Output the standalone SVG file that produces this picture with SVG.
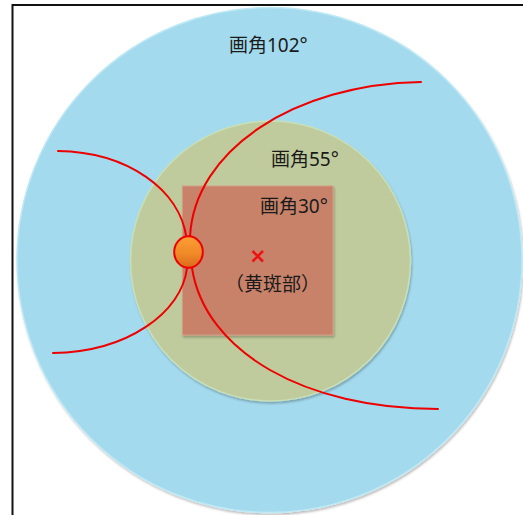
<svg xmlns="http://www.w3.org/2000/svg" width="523" height="515" viewBox="0 0 523 515">
  <defs>
    <linearGradient id="spotFill" x1="0" y1="0" x2="0" y2="1">
      <stop offset="0" stop-color="#fd9e36"/>
      <stop offset="0.55" stop-color="#f08a28"/>
      <stop offset="1" stop-color="#d9691c"/>
    </linearGradient>
    <filter id="softShadow" x="-5%" y="-5%" width="110%" height="110%">
      <feGaussianBlur in="SourceAlpha" stdDeviation="1.2"/>
      <feOffset dx="1" dy="1.5" result="b"/>
      <feComponentTransfer><feFuncA type="linear" slope="0.25"/></feComponentTransfer>
      <feMerge><feMergeNode/><feMergeNode in="SourceGraphic"/></feMerge>
    </filter>
  </defs>
  <style>
    .label { font-family: "Noto Sans", "Noto Sans CJK JP", sans-serif; font-size: 19px; fill: #1a1a1a; }
    .ray { fill: none; stroke: #ee0000; stroke-width: 2; stroke-linecap: round; }
  </style>

  <rect x="0" y="0" width="523" height="515" fill="#ffffff"/>
  <!-- frame -->
  <rect x="12.5" y="5" width="530" height="530" fill="none" stroke="#111111" stroke-width="2"/>

  <g id="field-102">
    <circle cx="269.5" cy="260" r="252.5" fill="#a4daee" stroke="#bfe9f5" stroke-width="1.5" filter="url(#softShadow)"/>
    <text class="label" x="229" y="52">画角102°</text>
  </g>

  <g id="field-55">
    <circle cx="270.5" cy="261" r="140" fill="#bfcb9c" stroke="#c8e0b8" stroke-width="1.5" filter="url(#softShadow)"/>
    <text class="label" x="271" y="166">画角55°</text>
  </g>

  <g id="field-30">
    <rect x="182.5" y="186" width="150.5" height="149" fill="#c8826a" stroke="#d49a84" stroke-width="1" filter="url(#softShadow)"/>
    <text class="label" x="260" y="213">画角30°</text>
  </g>

  <g id="macula">
    <path d="M252.5,251 L263,261.5 M263,251 L252.5,261.5" stroke="#ee1111" stroke-width="2.5" fill="none"/>
    <text class="label" x="225" y="291">（黄斑部）</text>
  </g>

  <g id="connectors">
    <path class="ray" d="M58,151 C128,152 180,190 186.5,238"/>
    <path class="ray" d="M190,237 C194,150 295,84 421,82"/>
    <path class="ray" d="M53,353 C128,352 182,312 187,268"/>
    <path class="ray" d="M192,268 C205,352 305,409 438,409"/>
  </g>

  <g id="optic-disc">
    <ellipse cx="188.5" cy="252" rx="14.3" ry="15.8" fill="url(#spotFill)" stroke="#ee0000" stroke-width="2"/>
  </g>
</svg>
